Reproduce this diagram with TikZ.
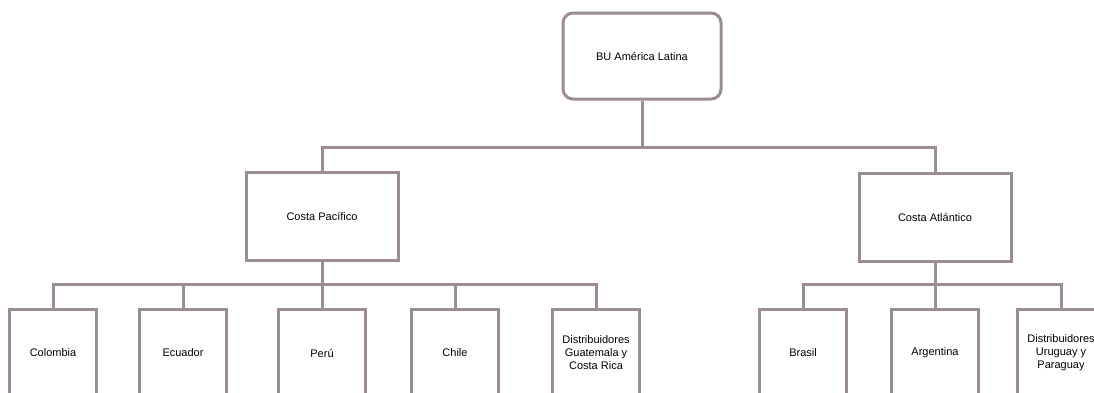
\documentclass[tikz,border=0pt]{standalone}
\usepackage{fontspec}
\setmainfont{Liberation Sans}
\definecolor{linegray}{RGB}{155,140,150}
\begin{document}
\begin{tikzpicture}[x=1pt,y=-1pt,
  every node/.style={font=\fontsize{11}{13}\selectfont, align=center, text=black},
  orgbox/.style={draw=linegray, line width=3pt, fill=white, inner sep=0pt},
  rootbox/.style={orgbox, rounded corners=10pt, minimum width=158pt, minimum height=86pt},
  regionbox/.style={orgbox, minimum width=152pt, minimum height=88pt},
  countrybox/.style={orgbox, minimum width=87pt, minimum height=88pt},
  link/.style={draw=linegray, line width=3pt}]
\clip (0,0) rectangle (1094,392);
\fill[white] (0,0) rectangle (1094,392);

% junction points of the connector lines
\coordinate (topbus) at (642,147);
\coordinate (pbus) at (322,284);
\coordinate (abus) at (935,284);
\coordinate (pstub) at (322,298);
\coordinate (astub) at (935,298);

% root
\node[rootbox] (root) at (642,56) {BU América Latina};

% regions
\node[regionbox] (pac) at (322,216) {Costa Pacífico};
\node[regionbox] (atl) at (935,217) {Costa Atlántico};

% countries, Pacific side
\node[countrybox] (col) at (53,353) {Colombia};
\node[countrybox] (ecu) at (183,353) {Ecuador};
\node[countrybox] (per) at (322,353) {Perú};
\node[countrybox] (chi) at (455,353) {Chile};
\node[countrybox] (dgc) at (596,353) {Distribuidores\\Guatemala y\\Costa Rica};

% countries, Atlantic side
\node[countrybox] (bra) at (803,353) {Brasil};
\node[countrybox] (arg) at (935,353) {Argentina};
\node[countrybox] (dup) at (1061,353) {Distribuidores\\Uruguay y\\Paraguay};

% top level
\draw[link] (root.south) -- (topbus);
\draw[link] (pac.north) |- (topbus) -| (atl.north);

% Pacific branch
\draw[link] (pac.south) -- (pstub);
\draw[link] (col.north) |- (pbus) -| (dgc.north);
\draw[link] (ecu.north) -- (ecu.north |- pbus);
\draw[link] (per.north) -- (per.north |- pbus);
\draw[link] (chi.north) -- (chi.north |- pbus);

% Atlantic branch
\draw[link] (atl.south) -- (astub);
\draw[link] (bra.north) |- (abus) -| (dup.north);
\draw[link] (arg.north) -- (arg.north |- abus);
\end{tikzpicture}
\end{document}
